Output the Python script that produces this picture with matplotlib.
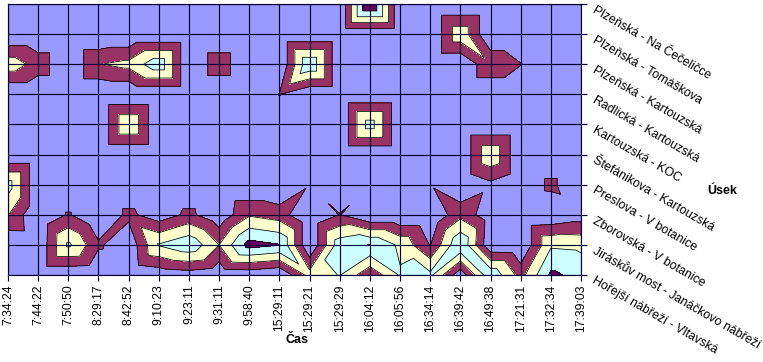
"""Contour chart of traffic on Prague road sections over the day (Excel style)."""

import matplotlib

matplotlib.use("Agg")
import matplotlib.pyplot as plt
import matplotlib.tri as mtri
import numpy as np

plt.rcParams["font.family"] = ["Liberation Sans", "DejaVu Sans"]

times = ["7:34:24", "7:44:22", "7:50:50", "8:29:17", "8:42:52", "9:10:23", "9:23:11",
         "9:31:11", "9:58:40", "15:29:11", "15:29:21", "15:29:29", "16:04:12",
         "16:05:56", "16:34:14", "16:39:42", "16:49:38", "17:21:31", "17:32:34", "17:39:03"]
sections = ["Plzeňská - Na Čečeličce", "Plzeňská - Tomáškova", "Plzeňská - Kartouzská",
            "Radlická - Kartouzská", "Kartouzská - KOC", "Štefánikova - Kartouzská",
            "Preslova - V botanice", "Zborovská - V botanice",
            "Jiráskův most - Janáčkovo nábřeží", "Hořejší nábřeží - Vltavská"]

na_cecelicce = [0, 0, 0, 0, 0, 0, 0, 0, 0, 0, 0, 0, 52, 0, 0, 0, 0, 0, 0, 0]
tomaskova = [0, 0, 0, 0, 0, 0, 0, 0, 0, 0, 0, 0, 0, 0, 0, 27, 0, 0, 0, 0]
plzenska_kartouzska = [26, 16, 0, 19.6, 23, 37, 0, 16, 0, 0, 39, 0, 0, 0, 0, 0, 18.2, 10.4, 0, 0]
radlicka = [0, 0, 0, 0, 0, 0, 0, 0, 0, 10.3, 0, 0, 0, 0, 0, 0, 0, 0, 0, 0]
koc = [0, 0, 0, 0, 29.5, 0, 0, 0, 0, 0, 0, 0, 35, 0, 0, 0, 0, 0, 0, 0]
stefanikova = [0, 0, 0, 0, 0, 0, 0, 0, 0, 0, 0, 0, 0, 0, 0, 0, 28.5, 0, 0, 0]
preslova = [34.5, 0, 0, 0, 0, 0, 0, 0, 0, 0, 9.3, 0, 9.1, 0, 9.1, 0, 7.5, 0, 12.6, 0]
zborovska = [20.5, 0, 11, 0, 12.5, 4, 12.5, 2.4, 18.8, 15, 0, 10.4, 0, 0, 0, 17, 3.3, 0, 1, 4.5]
jiraskuv = [0, 1, 32, 11.7, 2, 30.8, 38, 20, 44, 40.5, 0, 36, 40.3, 28, 9.5, 39.5, 1.3, 0, 28.5, 27.5]
horejsi = [0, 1, 1, 0, 0, 3, 5, 2, 3, 0, 24, 30.5, 12, 31, 32.5, 3, 38, 16, 42, 37]

levels = [10, 20, 30, 40]
band_colors = ["#9999FF", "#993366", "#FFFFCC", "#CCFFFF", "#660066"]
grid_color = "#000033"

z = np.array([na_cecelicce, tomaskova, plzenska_kartouzska, radlicka, koc, stefanikova,
              preslova, zborovska, jiraskuv, horejsi], dtype=float)
n_rows, n_cols = z.shape

# each cell is cut into 4 triangles around its centre, like Excel does
gx, gy = np.meshgrid(np.arange(n_cols), np.arange(n_rows))
cx, cy = np.meshgrid(np.arange(n_cols - 1) + 0.5, np.arange(n_rows - 1) + 0.5)
centre = np.maximum((z[:-1, :-1] + z[1:, 1:]) / 2, (z[:-1, 1:] + z[1:, :-1]) / 2)

xs = np.concatenate([gx.ravel(), cx.ravel()])
ys = np.concatenate([gy.ravel(), cy.ravel()])
zs = np.concatenate([z.ravel(), centre.ravel()])

triangles = []
for r in range(n_rows - 1):
    for c in range(n_cols - 1):
        tl = r * n_cols + c
        tr = tl + 1
        bl = tl + n_cols
        br = bl + 1
        m = n_rows * n_cols + r * (n_cols - 1) + c
        triangles += [[tl, tr, m], [tr, br, m], [br, bl, m], [bl, tl, m]]
tri = mtri.Triangulation(xs, ys, triangles)

fig = plt.figure(figsize=(7.63, 3.62), dpi=100)
ax = fig.add_axes([8 / 763, 1 - 275 / 362, 573 / 763, 271 / 362])

ax.tricontourf(tri, zs, levels=[-1] + levels + [100], colors=band_colors)
ax.tricontour(tri, zs, levels=levels, colors="black", linewidths=0.55)

ax.set_xlim(0, n_cols - 1)
ax.set_ylim(n_rows - 1, 0)
ax.set_xticks(range(n_cols))
ax.set_yticks(range(n_rows))
ax.grid(True, color=grid_color, linewidth=0.85)
ax.set_axisbelow(False)
for spine in ax.spines.values():
    spine.set_color(grid_color)
    spine.set_linewidth(0.85)

ax.set_xticklabels(times, rotation=90, fontsize=8.7)
ax.yaxis.tick_right()
ax.set_yticklabels(sections, rotation=-30, ha="left", va="top",
                   rotation_mode="anchor", fontsize=8.9)
ax.tick_params(axis="both", length=4, width=0.85, color=grid_color)
ax.tick_params(axis="y", pad=7)
ax.tick_params(axis="x", pad=3)

fig.text(297 / 763, 1 - 340 / 362, "Čas", fontsize=9, fontweight="bold", ha="center", va="center")
fig.text(722 / 763, 1 - 191 / 362, "Úsek", fontsize=9, fontweight="bold", ha="center", va="center")

fig.savefig("out.png", dpi=100)
